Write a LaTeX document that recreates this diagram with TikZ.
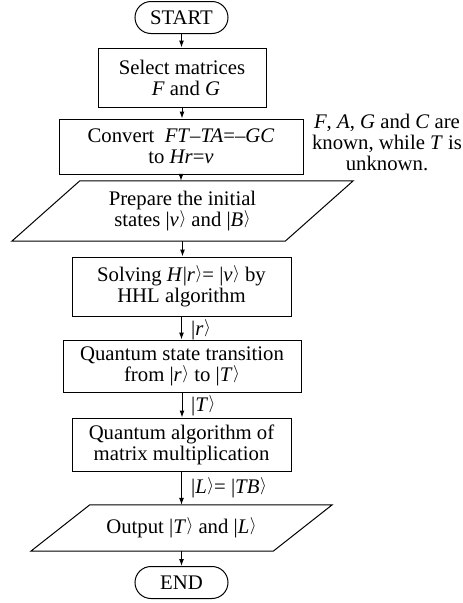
\documentclass[tikz,border=0pt]{standalone}
\usepackage{fontspec}
\setmainfont{Liberation Serif}
\usetikzlibrary{arrows.meta}
% ket notation (bar plus a smaller angle bracket) and italic symbols
\newcommand{\kt}[1]{|#1\kern0.6pt\raisebox{2.5pt}{\fontsize{17.28}{17}\selectfont$\rangle$}}
\newcommand{\iv}[1]{\textit{#1}}
\begin{document}
\begin{tikzpicture}[x=1pt,y=-1pt,
  every node/.style={font=\fontsize{20.74}{21}\selectfont},
  box/.style={draw, line width=1pt, align=center, inner sep=0pt},
  term/.style={box, rounded corners=16pt, minimum width=93pt, minimum height=32pt},
  io/.style={align=center, inner sep=0pt},
  edge/.style={line width=1pt},
  flow/.style={line width=1pt, -{Latex[length=7pt,width=5pt]}},
  lbl/.style={anchor=west, inner sep=0pt}]
\useasboundingbox (0,0) rectangle (463,603);

% terminals and process steps
\node[term] (start) at (181.5,17.5) {START};
\node[box, minimum width=168pt, minimum height=59pt] (sel) at (182,77.5)
  {Select matrices\\ \hspace*{8pt}\iv{F} and \iv{G}};
\node[box, minimum width=244pt, minimum height=55pt] (conv) at (181,146.5)
  {Convert\ \ \iv{FT}–\iv{TA}=–\iv{GC}\\ to \iv{Hr}=\iv{v}};
\node[io, minimum width=205pt, minimum height=60pt] (prep) at (182.5,211)
  {Prepare the initial\\ states \kt{\iv{v}} and \kt{\iv{B}}};
\draw[edge] (prep.north west) -- ([xshift=68pt]prep.north east)
  -- (prep.south east) -- ([xshift=-68pt]prep.south west) -- cycle;
\node[box, minimum width=219pt, minimum height=59pt] (solve) at (181.5,286.5)
  {Solving \iv{H}\kt{\iv{r}}= \kt{\iv{v}} by\\ HHL algorithm};
\node[box, minimum width=238pt, minimum height=52pt] (trans) at (182,366)
  {Quantum state transition\\ from \kt{\iv{r}} to \kt{\iv{T}}};
\node[box, minimum width=219pt, minimum height=53pt] (mult) at (181.5,444.5)
  {Quantum algorithm of\\ matrix multiplication};
\node[io, minimum width=183pt, minimum height=46pt] (out) at (181.5,528)
  {Output \kt{\iv{T}} and \kt{\iv{L}}};
\draw[edge] (out.north west) -- ([xshift=59pt]out.north east)
  -- (out.south east) -- ([xshift=-59pt]out.south west) -- cycle;
\node[term] (end) at (181.5,582.5) {END};

% side note
\node[align=center, inner sep=0pt] (note) at (387,142)
  {\iv{F}, \iv{A}, \iv{G} and \iv{C} are\\ known, while \iv{T} is\\ unknown.};

% connectors
\draw[flow] (start.south) -- (start.south |- sel.north);
\draw[flow] (sel.south) -- (sel.south |- conv.north);
\draw[flow] (conv.south) -- (conv.south |- prep.north);
\draw[flow] (prep.south) -- (prep.south |- solve.north);
\draw[flow] (solve.south) -- (solve.south |- trans.north);
\draw[flow] (trans.south) -- (trans.south |- mult.north);
\draw[flow] (mult.south) -- (mult.south |- out.north);
\draw[flow] (out.south) -- (out.south |- end.north);

% state labels on connectors
\node[lbl] (lr) at (191,330) {\kt{\iv{r}}};
\node[lbl] (lt) at (191,406) {\kt{\iv{T}}};
\node[lbl] (ll) at (191,488) {\kt{\iv{L}}= \kt{\iv{TB}}};
\end{tikzpicture}
\end{document}
